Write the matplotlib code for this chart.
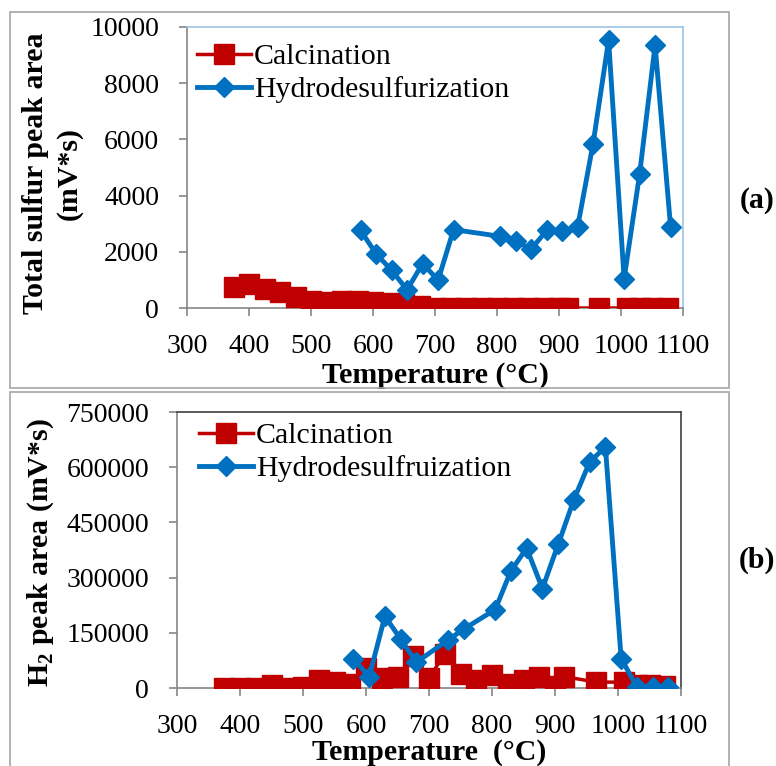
import matplotlib
matplotlib.use("Agg")
import matplotlib.pyplot as plt
from matplotlib.patches import Rectangle

# ---------------- data ----------------
calc_T = [375, 400, 425, 450, 475, 500, 525, 550, 575, 600, 625, 650, 675, 700,
          725, 750, 775, 800, 825, 850, 875, 900, 915, 965, 1010, 1030, 1050, 1075]
calc_S = [760, 850, 680, 560, 380, 240, 220, 250, 250, 200, 180, 150, 60, 0,
          0, 0, 0, 0, 0, 0, 0, 0, 0, 0, 0, 0, 0, 0]
calc_H2 = [0, 0, 0, 7000, 1000, 2000, 23000, 17000, 10000, 55000, 28000, 30000, 88000, 28000,
           92000, 39000, 23000, 35000, 12000, 21000, 30000, 4500, 31000, 16000, 16000, 8000, 7000, 5000]

hds_T_S = [580, 605, 630, 655, 680, 705, 730, 805, 830, 855, 880, 905, 930, 955, 980,
           1005, 1030, 1055, 1080]
hds_S = [2760, 1930, 1340, 650, 1580, 990, 2790, 2550, 2390, 2090, 2760, 2740, 2880, 5850, 9530,
         1040, 4760, 9350, 2880]

hds_T_H2 = [580, 605, 630, 655, 680, 730, 755, 805, 830, 855, 880, 905, 930, 955, 980,
            1005, 1030, 1055, 1080]
hds_H2 = [80000, 30000, 195000, 133000, 70000, 130000, 160000, 213000, 318000, 380000, 270000,
          390000, 512000, 614000, 655000, 80000, 3000, 3000, 3000]

x_ticks = [300, 400, 500, 600, 700, 800, 900, 1000, 1100]
yS_ticks = [0, 2000, 4000, 6000, 8000, 10000]
yH_ticks = [0, 150000, 300000, 450000, 600000, 750000]

# ---------------- style ----------------
plt.rcParams['font.family'] = ['Liberation Serif', 'DejaVu Serif']
plt.rcParams['mathtext.fontset'] = 'custom'
plt.rcParams['mathtext.rm'] = 'Liberation Serif'
RED = '#C00000'
BLUE = '#0070C0'
GRAY = '#868686'
FS = 20
LFS = 21.5

W, H = 776, 766
fig = plt.figure(figsize=(W / 100, H / 100), dpi=100)


def fx(px):
    return px / W


def fy(py):
    return 1 - py / H


# panel borders
fig.patches.append(Rectangle((fx(10), fy(388)), fx(719), 376 / H, transform=fig.transFigure,
                             fill=False, ec='#A6A6A6', lw=1.2))
fig.patches.append(Rectangle((fx(10), fy(772)), fx(719), 380 / H, transform=fig.transFigure,
                             fill=False, ec='#A6A6A6', lw=1.2))


def style_axes(ax, edge_color):
    for s in ['left', 'bottom']:
        ax.spines[s].set_color(GRAY)
        ax.spines[s].set_linewidth(1.2)
    for s in ['top', 'right']:
        ax.spines[s].set_color(edge_color)
        ax.spines[s].set_linewidth(1.2)
    ax.tick_params(axis='both', direction='out', length=6, width=1.2, color=GRAY,
                   labelsize=FS, labelcolor='black')
    ax.tick_params(axis='x', pad=13)
    ax.tick_params(axis='y', pad=14)
    ax.set_xlim(300, 1100)
    ax.set_xticks(x_ticks)


# ---------------- top panel ----------------
ax1 = fig.add_axes([fx(187), fy(308), fx(496), 281 / H])
ax1.plot(calc_T, calc_S, color=RED, lw=2.5, marker='s', ms=14, mec=RED, mfc=RED,
         label='Calcination', zorder=3)
ax1.plot(hds_T_S, hds_S, color=BLUE, lw=3.5, marker='D', ms=10, mec=BLUE, mfc=BLUE,
         label='Hydrodesulfurization', zorder=4)
style_axes(ax1, '#9DC3E6')
ax1.set_ylim(0, 10000)
ax1.set_yticks(yS_ticks)
ax1.set_xlabel('Temperature (°C)', fontsize=LFS, fontweight='bold', labelpad=2)
ax1.set_ylabel('Total sulfur peak area\n(mV*s)', fontsize=LFS, fontweight='bold',
               linespacing=1.3)
ax1.yaxis.set_label_coords(-0.21, 0.48)
ax1.legend(loc='upper left', bbox_to_anchor=(-0.01, 0.995), frameon=False, fontsize=LFS,
           handlelength=1.8, handletextpad=0.1, labelspacing=0.2, borderaxespad=0.2,
           borderpad=0.3)
fig.text(fx(757), fy(200), '(a)', fontsize=LFS, fontweight='bold', ha='center', va='center')

# ---------------- bottom panel ----------------
ax2 = fig.add_axes([fx(177), fy(688), fx(504), 276 / H])
ax2.plot(calc_T, calc_H2, color=RED, lw=2.5, marker='s', ms=14, mec=RED, mfc=RED,
         label='Calcination', zorder=3)
ax2.plot(hds_T_H2, hds_H2, color=BLUE, lw=3.5, marker='D', ms=10, mec=BLUE, mfc=BLUE,
         label='Hydrodesulfruization', zorder=4)
style_axes(ax2, '#404040')
ax2.set_ylim(0, 750000)
ax2.set_yticks(yH_ticks)
ax2.set_xlabel('Temperature  (°C)', fontsize=LFS, fontweight='bold', labelpad=0)
ax2.set_ylabel(r'H$_\mathregular{2}$ peak area (mV*s)', fontsize=LFS, fontweight='bold')
ax2.yaxis.set_label_coords(-0.24, 0.49)
ax2.legend(loc='upper left', bbox_to_anchor=(0.015, 1.017), frameon=False, fontsize=LFS,
           handlelength=1.8, handletextpad=0.1, labelspacing=0.2, borderaxespad=0.2,
           borderpad=0.3)
fig.text(fx(757), fy(560), '(b)', fontsize=LFS, fontweight='bold', ha='center', va='center')

fig.savefig('out.png', dpi=100)
